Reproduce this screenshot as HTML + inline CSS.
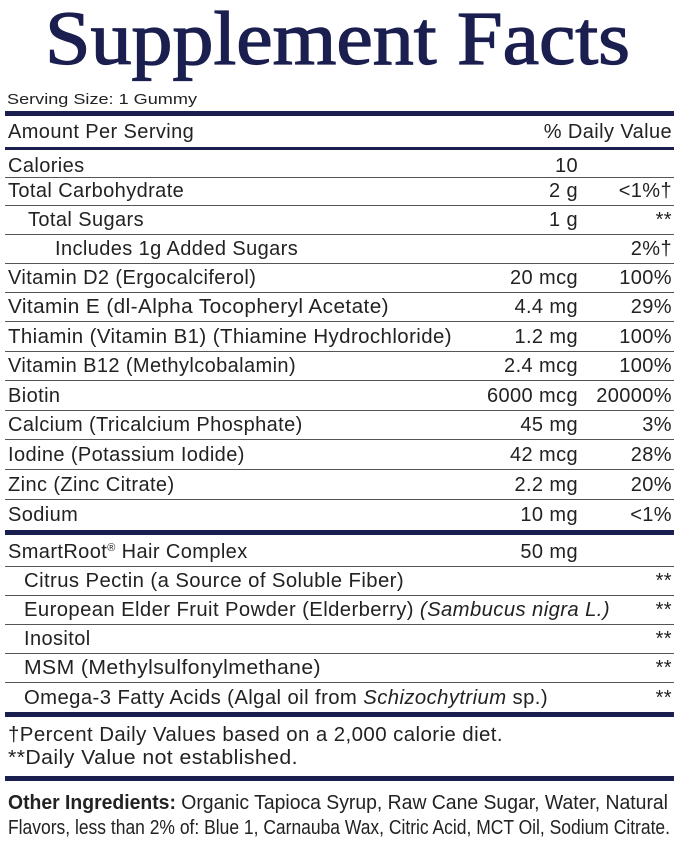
<!DOCTYPE html>
<html><head><meta charset="utf-8"><style>
html,body{margin:0;padding:0;background:#fff;}
svg{display:block}
text{font-family:"Liberation Sans",sans-serif;fill:#222;font-size:20px;letter-spacing:0.4px}
.r{text-anchor:end}
</style></head><body>
<svg width="679" height="844" viewBox="0 0 679 844">
<text x="45" y="64" style="font-family:'Liberation Serif',serif;font-size:76px;fill:#1b1f4f;stroke:#1b1f4f;stroke-width:1.3px;letter-spacing:0" textLength="585" lengthAdjust="spacingAndGlyphs">Supplement Facts</text>
<text x="7" y="104" style="font-size:15px;letter-spacing:0" textLength="190" lengthAdjust="spacingAndGlyphs">Serving Size: 1 Gummy</text>
<rect x="5" y="111" width="669" height="5" fill="#1b1f4f"/>
<text x="8" y="138">Amount Per Serving</text>
<text x="672" y="138" class="r">% Daily Value</text>
<rect x="5" y="147" width="669" height="3" fill="#1b1f4f"/>
<g stroke="#555" stroke-width="1">
<line x1="5" x2="674" y1="177.5" y2="177.5"/>
<line x1="5" x2="674" y1="205.5" y2="205.5"/>
<line x1="5" x2="674" y1="234.5" y2="234.5"/>
<line x1="5" x2="674" y1="263.5" y2="263.5"/>
<line x1="5" x2="674" y1="292.5" y2="292.5"/>
<line x1="5" x2="674" y1="321.5" y2="321.5"/>
<line x1="5" x2="674" y1="351.5" y2="351.5"/>
<line x1="5" x2="674" y1="380.5" y2="380.5"/>
<line x1="5" x2="674" y1="410.5" y2="410.5"/>
<line x1="5" x2="674" y1="439.5" y2="439.5"/>
<line x1="5" x2="674" y1="469.5" y2="469.5"/>
<line x1="5" x2="674" y1="499.5" y2="499.5"/>
<line x1="5" x2="674" y1="566.5" y2="566.5"/>
<line x1="5" x2="674" y1="595.5" y2="595.5"/>
<line x1="5" x2="674" y1="624.5" y2="624.5"/>
<line x1="5" x2="674" y1="653.5" y2="653.5"/>
<line x1="5" x2="674" y1="682.5" y2="682.5"/>
</g>
<rect x="5" y="530" width="669" height="5" fill="#1b1f4f"/>
<rect x="5" y="712" width="669" height="5" fill="#1b1f4f"/>
<rect x="5" y="776" width="669" height="5" fill="#1b1f4f"/>

<text x="8" y="172">Calories</text><text x="578" y="172" class="r">10</text>
<text x="8" y="197">Total Carbohydrate</text><text x="578" y="197" class="r">2 g</text><text x="672" y="197" class="r">&lt;1%†</text>
<text x="28" y="226">Total Sugars</text><text x="578" y="226" class="r">1 g</text><text x="672" y="226" class="r">**</text>
<text x="55" y="255">Includes 1g Added Sugars</text><text x="672" y="255" class="r">2%†</text>
<text x="8" y="284">Vitamin D2 (Ergocalciferol)</text><text x="578" y="284" class="r">20 mcg</text><text x="672" y="284" class="r">100%</text>
<text x="8" y="313" textLength="381" lengthAdjust="spacingAndGlyphs">Vitamin E (dl-Alpha Tocopheryl Acetate)</text><text x="578" y="313" class="r">4.4 mg</text><text x="672" y="313" class="r">29%</text>
<text x="8" y="343" textLength="444" lengthAdjust="spacingAndGlyphs">Thiamin (Vitamin B1) (Thiamine Hydrochloride)</text><text x="578" y="343" class="r">1.2 mg</text><text x="672" y="343" class="r">100%</text>
<text x="8" y="372">Vitamin B12 (Methylcobalamin)</text><text x="578" y="372" class="r">2.4 mcg</text><text x="672" y="372" class="r">100%</text>
<text x="8" y="402">Biotin</text><text x="578" y="402" class="r">6000 mcg</text><text x="672" y="402" class="r">20000%</text>
<text x="8" y="431">Calcium (Tricalcium Phosphate)</text><text x="578" y="431" class="r">45 mg</text><text x="672" y="431" class="r">3%</text>
<text x="8" y="461">Iodine (Potassium Iodide)</text><text x="578" y="461" class="r">42 mcg</text><text x="672" y="461" class="r">28%</text>
<text x="8" y="491">Zinc (Zinc Citrate)</text><text x="578" y="491" class="r">2.2 mg</text><text x="672" y="491" class="r">20%</text>
<text x="8" y="521">Sodium</text><text x="578" y="521" class="r">10 mg</text><text x="672" y="521" class="r">&lt;1%</text>

<text x="8" y="558">SmartRoot<tspan dy="-7" font-size="11">®</tspan><tspan dy="7"> Hair Complex</tspan></text><text x="578" y="558" class="r">50 mg</text>
<text x="24" y="587" textLength="380" lengthAdjust="spacingAndGlyphs">Citrus Pectin (a Source of Soluble Fiber)</text><text x="672" y="587" class="r">**</text>
<text x="24" y="616" textLength="586" lengthAdjust="spacingAndGlyphs">European Elder Fruit Powder (Elderberry) <tspan font-style="italic">(Sambucus nigra L.)</tspan></text><text x="672" y="616" class="r">**</text>
<text x="24" y="645">Inositol</text><text x="672" y="645" class="r">**</text>
<text x="24" y="674" textLength="297" lengthAdjust="spacingAndGlyphs">MSM (Methylsulfonylmethane)</text><text x="672" y="674" class="r">**</text>
<text x="24" y="704" textLength="524" lengthAdjust="spacingAndGlyphs">Omega-3 Fatty Acids (Algal oil from <tspan font-style="italic">Schizochytrium</tspan> sp.)</text><text x="672" y="704" class="r">**</text>

<text x="8" y="741" textLength="495" lengthAdjust="spacingAndGlyphs">†Percent Daily Values based on a 2,000 calorie diet.</text>
<text x="8" y="764" textLength="290" lengthAdjust="spacingAndGlyphs">**Daily Value not established.</text>

<text x="8" y="809" style="letter-spacing:0" textLength="660" lengthAdjust="spacingAndGlyphs"><tspan font-weight="bold" fill="#222">Other Ingredients:</tspan> Organic Tapioca Syrup, Raw Cane Sugar, Water, Natural</text>
<text x="8" y="834" style="letter-spacing:0" textLength="662" lengthAdjust="spacingAndGlyphs">Flavors, less than 2% of: Blue 1, Carnauba Wax, Citric Acid, MCT Oil, Sodium Citrate.</text>
</svg>
</body></html>
